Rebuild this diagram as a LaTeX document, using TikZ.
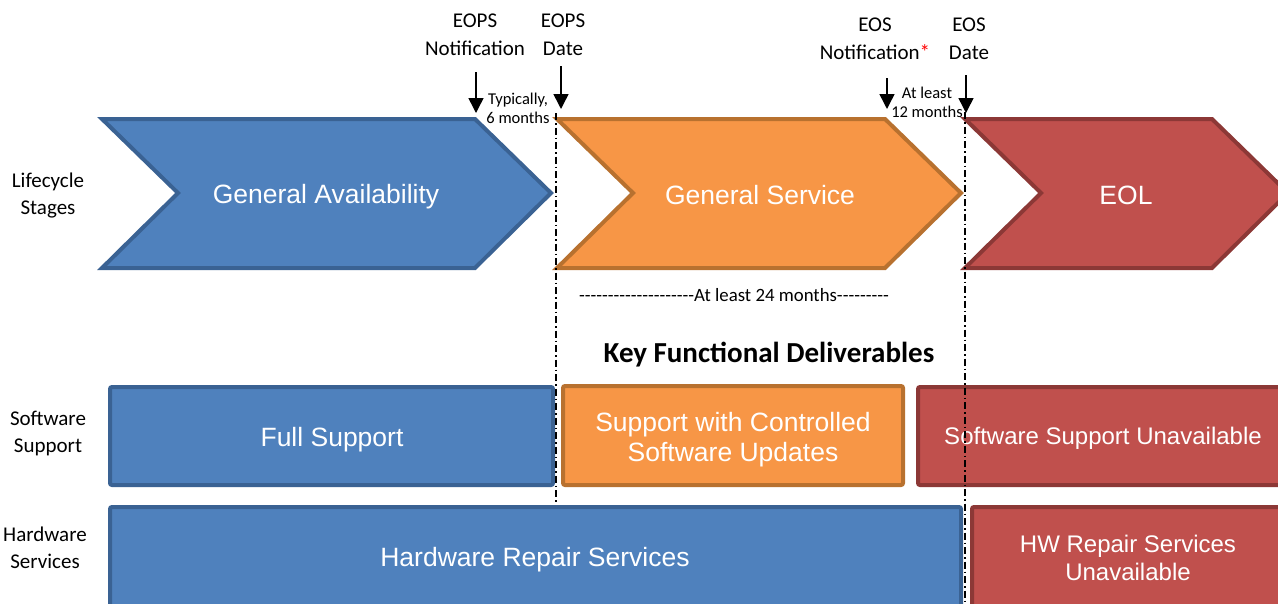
\documentclass[tikz,border=0pt]{standalone}
\usepackage{fontspec}
\setmainfont{Carlito}
\newfontfamily\arialfont{Liberation Sans}
\usetikzlibrary{positioning, calc, arrows.meta}

\definecolor{gaBlue}{HTML}{4F81BD}
\definecolor{gaBlueEdge}{HTML}{3A6293}
\definecolor{gsOrange}{HTML}{F79646}
\definecolor{gsOrangeEdge}{HTML}{B8712F}
\definecolor{eolRed}{HTML}{C0504D}
\definecolor{eolRedEdge}{HTML}{8C3836}

% plain hyphens, one per loop step, so no dash ligatures form
\newcommand\dashrun[1]{\foreach\k in {1,...,#1}{-}}

\begin{document}
\begin{tikzpicture}[
    x=1pt, y=-1pt,
    every node/.style={inner sep=0pt, align=center},
    stage/.style={line width=4pt, line join=miter},
    blueshape/.style={stage, fill=gaBlue, draw=gaBlueEdge},
    orangeshape/.style={stage, fill=gsOrange, draw=gsOrangeEdge},
    redshape/.style={stage, fill=eolRed, draw=eolRedEdge},
    bar/.style={rounded corners=2pt},
    intext/.style={text=white, font=\arialfont\fontsize{26.5}{30}\selectfont},
    smalltext/.style={text=white, font=\arialfont\fontsize{24}{28}\selectfont},
    rowlabel/.style={font=\fontsize{21}{27}\selectfont},
    milestone/.style={font=\fontsize{21}{28}\selectfont},
    gaptext/.style={font=\fontsize{16.5}{19}\selectfont},
    marker/.style={line width=1.5pt, -{Triangle[width=15pt,length=15pt]}},
    cutline/.style={line width=1.5pt, dash pattern=on 7pt off 3pt on 1.5pt off 3pt}
  ]
  \useasboundingbox (0,0) rectangle (1278,603);
  \clip (0,0) rectangle (1278,603);

  % lifecycle chevrons
  \draw[blueshape] (102,119) -- (475,119) -- (551,193) -- (475,268) -- (102,268) -- (178,193) -- cycle;
  \draw[orangeshape] (557,119) -- (885,119) -- (961,193) -- (885,268) -- (557,268) -- (633,193) -- cycle;
  \draw[redshape] (965,119) -- (1212,119) -- (1288,193) -- (1212,268) -- (965,268) -- (1041,193) -- cycle;
  \node[intext] (ga) at (326,197) {General Availability};
  \node[intext] (gs) at (760,195) {General Service};
  \node[intext] (eol) at (1126,195) {EOL};

  % deliverables
  \draw[blueshape, bar] (110,387) rectangle (553,485);
  \draw[orangeshape, bar] (563,386) rectangle (903,485);
  \draw[redshape, bar] (918,387) rectangle (1290,485);
  \draw[blueshape, bar] (110,507) rectangle (961,620);
  \draw[redshape, bar] (972,507) rectangle (1290,620);
  \node[intext] (full) at (332,440) {Full Support};
  \node[intext] (ctrl) at (733,440) {Support with Controlled\\Software Updates};
  \node[smalltext] (swna) at (1103,438) {Software Support Unavailable};
  \node[intext] (hwrs) at (535,560) {Hardware Repair Services};
  \node[smalltext] (hwna) at (1128,558) {HW Repair Services\\Unavailable};

  % row labels
  \node[rowlabel] (lcs) at (48,196) {Lifecycle\\Stages};
  \node[rowlabel] (sws) at (48,433) {Software\\Support};
  \node[rowlabel] (hws) at (45,548) {Hardware\\Services};

  % milestones
  \node[milestone] (eopsN) at (475,35) {EOPS\\Notification};
  \node[milestone] (eopsD) at (563,35) {EOPS\\Date};
  \node[milestone] (eosN) at (875,39) {EOS\\Notification\textcolor{red}{*}};
  \node[milestone] (eosD) at (969,39) {EOS\\Date};
  \node[gaptext] (typ) at (518,108) {Typically,\\6 months};
  \node[gaptext] (least12) at (927,102) {At least\\12 months};
  \node[gaptext, font=\fontsize{18.8}{21}\selectfont] (least24) at (734,295) {\dashrun{20}At least 24 months\dashrun{9}};
  \node[font=\bfseries\fontsize{29}{33}\selectfont] (kfd) at (769,355) {Key Functional Deliverables};

  \coordinate (eopsNtip) at (476,113);
  \coordinate (eopsDtip) at (561,109);
  \coordinate (eosNtip) at (887,109);
  \coordinate (eosDtip) at (966,113);
  \draw[marker] (eopsNtip |- 0,72) -- (eopsNtip);
  \draw[marker] (eopsDtip |- 0,66) -- (eopsDtip);
  \draw[marker] (eosNtip |- 0,78) -- (eosNtip);
  \draw[marker] (eosDtip |- 0,75) -- (eosDtip);

  % cut-off lines
  \coordinate (eopsTop) at (556,113);
  \coordinate (eopsBot) at (556,502);
  \coordinate (eosTop) at (965,112);
  \coordinate (eosBot) at (965,603);
  \draw[cutline] (eopsTop) -- (eopsBot);
  \draw[cutline] (eosTop) -- (eosBot);
\end{tikzpicture}
\end{document}
